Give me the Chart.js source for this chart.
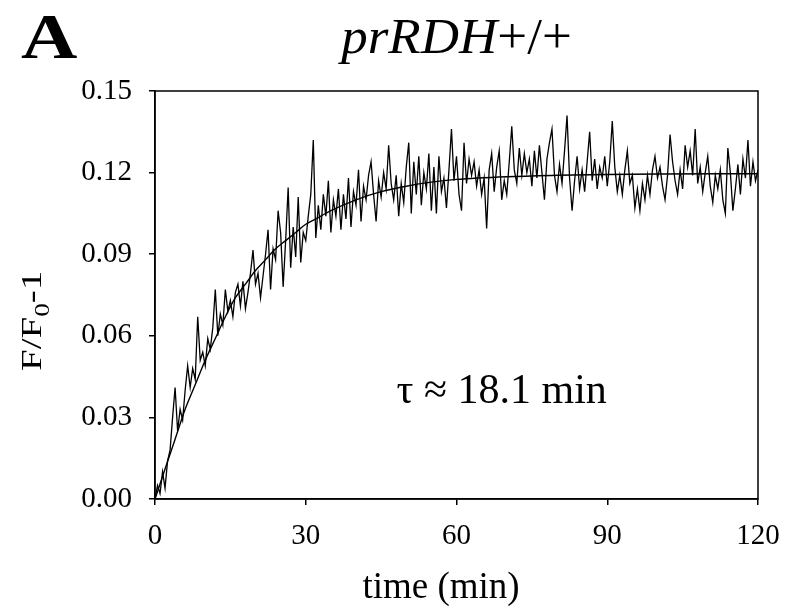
<!DOCTYPE html>
<html><head><meta charset="utf-8">
<script src="https://cdn.jsdelivr.net/npm/chart.js@4.4.1/dist/chart.umd.min.js"></script>
<style>html,body{margin:0;padding:0;background:#fff}#wrap{width:786px;height:609px;position:relative}</style>
</head><body><div id="wrap"><canvas id="c" width="786" height="609"></canvas></div>
<script>
const panelLabel = 'A';
const titleItalic = 'prRDH';
const titleRest = '+/+';
const xTitle = 'time (min)';
const yTitleMain = 'F/F';
const yTitleSub = '0';
const yTitleEnd = '-1';
const annotationText = 'τ ≈ 18.1 min';
const xTicks = [0, 30, 60, 90, 120];
const yTicks = [0, 0.03, 0.06, 0.09, 0.12, 0.15];
const traceStartMin = 0;
const traceStepMin = 0.5;
const traceValues = [
 0.000,0.005,0.002,0.010,0.004,0.014,0.018,0.030,0.041,0.025,
 0.033,0.029,0.040,0.049,0.041,0.048,0.044,0.067,0.051,0.054,
 0.049,0.059,0.055,0.063,0.077,0.060,0.068,0.064,0.077,0.069,
 0.073,0.067,0.076,0.079,0.071,0.080,0.070,0.076,0.083,0.0915,
 0.079,0.083,0.074,0.082,0.090,0.099,0.077,0.092,0.088,0.106,
 0.098,0.078,0.095,0.1145,0.085,0.100,0.089,0.111,0.087,0.098,
 0.095,0.104,0.112,0.132,0.096,0.108,0.099,0.112,0.104,0.117,
 0.098,0.110,0.104,0.114,0.099,0.112,0.103,0.118,0.100,0.113,
 0.108,0.121,0.102,0.115,0.110,0.119,0.124,0.112,0.102,0.117,
 0.111,0.120,0.114,0.130,0.116,0.110,0.119,0.104,0.116,0.109,
 0.122,0.131,0.105,0.124,0.112,0.126,0.108,0.120,0.114,0.127,
 0.106,0.122,0.105,0.126,0.113,0.118,0.107,0.121,0.136,0.117,
 0.126,0.112,0.106,0.131,0.116,0.125,0.119,0.124,0.115,0.121,
 0.112,0.118,0.0995,0.121,0.127,0.113,0.122,0.128,0.110,0.117,
 0.112,0.124,0.137,0.121,0.116,0.129,0.119,0.127,0.120,0.125,
 0.115,0.128,0.118,0.130,0.120,0.110,0.125,0.131,0.136,0.119,
 0.113,0.123,0.116,0.128,0.141,0.118,0.106,0.117,0.126,0.114,
 0.121,0.113,0.124,0.135,0.117,0.125,0.114,0.122,0.118,0.126,
 0.115,0.124,0.139,0.122,0.113,0.119,0.112,0.121,0.128,0.116,
 0.119,0.107,0.114,0.106,0.116,0.110,0.119,0.112,0.121,0.126,
 0.118,0.122,0.115,0.110,0.119,0.134,0.124,0.117,0.112,0.121,
 0.114,0.130,0.122,0.128,0.119,0.136,0.116,0.122,0.113,0.120,
 0.126,0.115,0.109,0.119,0.114,0.121,0.110,0.105,0.129,0.120,
 0.106,0.114,0.123,0.112,0.125,0.118,0.132,0.115,0.124,0.117,
 0.121
];
const fitTimes  = [0, 2, 4, 6, 8, 10, 12, 14, 16, 18, 20, 22, 24, 26, 28, 30, 32, 35, 40, 45, 50, 55, 60, 70, 80, 90, 100, 120];
const fitValues = [0, 0.011, 0.022, 0.033, 0.042, 0.051, 0.059, 0.067, 0.074, 0.079, 0.084, 0.088, 0.092, 0.095, 0.098, 0.101, 0.103, 0.106, 0.110, 0.113, 0.115, 0.1165, 0.1175, 0.1185, 0.119, 0.1193, 0.1195, 0.1196];

const tracePoints = traceValues.map((v, i) => ({x: traceStartMin + i * traceStepMin, y: v}));
const fitPoints = fitTimes.map((t, i) => ({x: t, y: fitValues[i]}));

const SERIF = '"Liberation Serif", "DejaVu Serif", serif';

function stretchedText(ctx, text, x, y, font, sx, sy, align) {
  ctx.save();
  ctx.font = font;
  ctx.textAlign = align || 'left';
  ctx.translate(x, y);
  ctx.scale(sx, sy);
  ctx.fillText(text, 0, 0);
  ctx.restore();
}

const decor = {
  id: 'decor',
  afterDraw(chart) {
    const ctx = chart.ctx, a = chart.chartArea;
    ctx.save();
    ctx.strokeStyle = '#000';
    ctx.lineWidth = 1.5;
    ctx.strokeRect(a.left, a.top, a.right - a.left, a.bottom - a.top);
    ctx.fillStyle = '#000';
    ctx.textBaseline = 'alphabetic';
    // panel letter
    stretchedText(ctx, panelLabel, 21, 58, 'bold 64px ' + SERIF, 1.22, 1, 'left');
    // title
    const cx = (a.left + a.right) / 2;
    const tsx = 1.06;
    ctx.font = 'italic 50px ' + SERIF;
    const w1 = ctx.measureText(titleItalic).width * tsx;
    ctx.font = '50px ' + SERIF;
    const w2 = ctx.measureText(titleRest).width * tsx;
    const x0 = cx - (w1 + w2) / 2;
    stretchedText(ctx, titleItalic, x0, 53, 'italic 50px ' + SERIF, tsx, 1, 'left');
    stretchedText(ctx, titleRest, x0 + w1, 53, '50px ' + SERIF, tsx, 1, 'left');
    // x title
    stretchedText(ctx, xTitle, 441, 598, '37px ' + SERIF, 1, 1, 'center');
    // annotation
    stretchedText(ctx, annotationText, chart.scales.x.getPixelForValue(69), chart.scales.y.getPixelForValue(0.0352), '42px ' + SERIF, 1, 1, 'center');
    // y title rotated, stretched along its length
    const cy = chart.scales.y.getPixelForValue(0.0655);
    ctx.translate(41, cy);
    ctx.rotate(-Math.PI / 2);
    ctx.scale(1.3, 1);
    ctx.font = '30px ' + SERIF;
    const m1 = ctx.measureText(yTitleMain).width;
    ctx.font = '21px ' + SERIF;
    const m2 = ctx.measureText(yTitleSub).width;
    ctx.font = '30px ' + SERIF;
    const m3 = ctx.measureText(yTitleEnd).width;
    const sx = -(m1 + m2 + m3) / 2;
    ctx.textAlign = 'left';
    ctx.font = '30px ' + SERIF;
    ctx.fillText(yTitleMain, sx, 0);
    ctx.font = '21px ' + SERIF;
    ctx.fillText(yTitleSub, sx + m1, 8);
    ctx.font = '30px ' + SERIF;
    ctx.fillText(yTitleEnd, sx + m1 + m2, 0);
    ctx.restore();
  }
};

new Chart(document.getElementById('c'), {
  type: 'line',
  data: {
    datasets: [
      {data: tracePoints, borderColor: '#000', borderWidth: 1.3, pointRadius: 0, tension: 0, fill: false},
      {data: fitPoints, borderColor: '#000', borderWidth: 1.4, pointRadius: 0, cubicInterpolationMode: 'monotone', fill: false}
    ]
  },
  options: {
    responsive: false,
    animation: false,
    devicePixelRatio: 1,
    layout: {padding: {left: 0, top: 91, right: 28, bottom: 0}},
    plugins: {legend: {display: false}, tooltip: {enabled: false}, title: {display: false}},
    scales: {
      x: {
        type: 'linear', min: 0, max: 120,
        afterBuildTicks: s => { s.ticks = xTicks.map(v => ({value: v})); },
        afterFit: s => { s.height = 110; s.paddingLeft = 0; s.paddingRight = 0; },
        ticks: {color: '#000', font: {family: SERIF, size: 29}, padding: 14, maxRotation: 0, callback: v => String(v)},
        grid: {drawOnChartArea: false, color: '#000', lineWidth: 1.5, tickLength: 6},
        border: {color: '#000', width: 1.5}
      },
      y: {
        min: 0, max: 0.15,
        afterBuildTicks: s => { s.ticks = yTicks.map(v => ({value: v})); },
        afterFit: s => { s.width = 155; s.paddingTop = 0; s.paddingBottom = 0; },
        ticks: {color: '#000', font: {family: SERIF, size: 29}, padding: 17, callback: v => v.toFixed(2)},
        grid: {drawOnChartArea: false, color: '#000', lineWidth: 1.5, tickLength: 6},
        border: {color: '#000', width: 1.5}
      }
    }
  },
  plugins: [decor]
});
</script></body></html>
